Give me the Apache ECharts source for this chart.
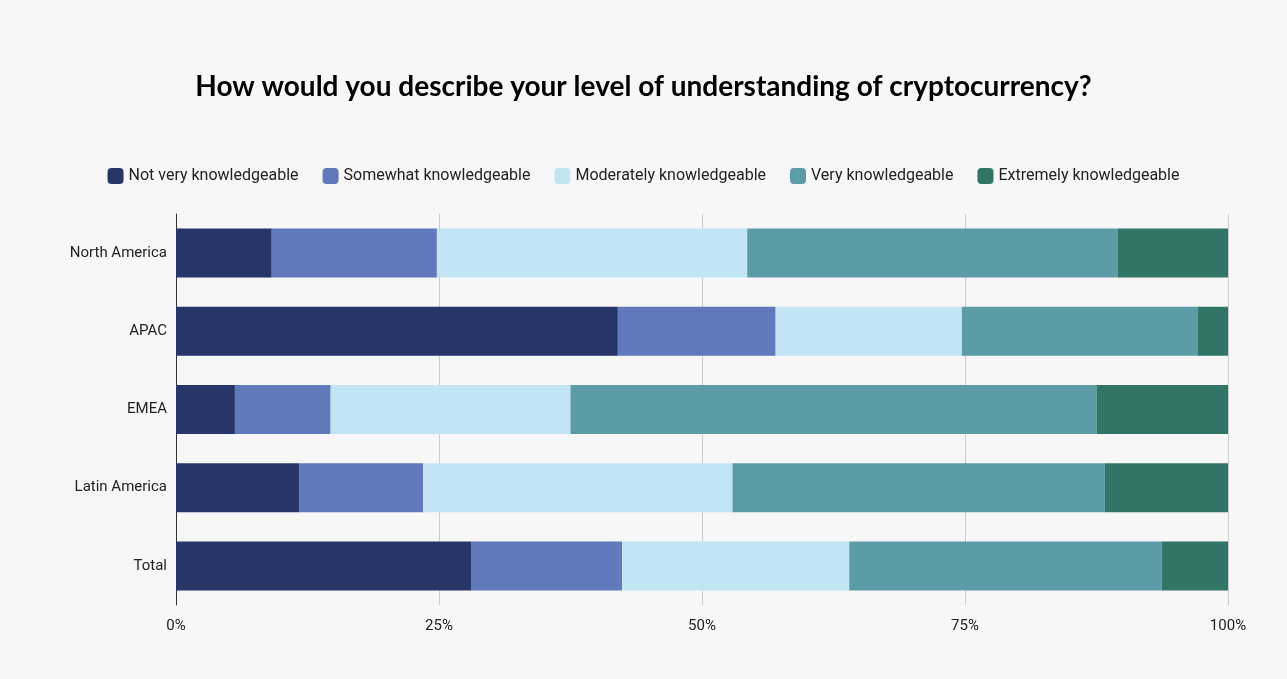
<!DOCTYPE html>
<html><head><meta charset="utf-8">
<script src="https://cdn.jsdelivr.net/npm/echarts@6/dist/echarts.min.js"></script>
<style>html,body{margin:0;background:#f7f7f7}#c{width:1287px;height:679px}</style>
</head><body><div id="c"></div>
<script>
const categories = ["North America","APAC","EMEA","Latin America","Total"];
const seriesNames = ["Not very knowledgeable","Somewhat knowledgeable","Moderately knowledgeable","Very knowledgeable","Extremely knowledgeable"];
const notVery = [9.1,42.0,5.6,11.7,28.1];
const somewhat = [15.7,15.0,9.1,11.8,14.3];
const moderately = [29.5,17.7,22.8,29.4,21.6];
const very = [35.2,22.4,50.0,35.4,29.7];
const extremely = [10.5,2.9,12.5,11.7,6.3];
const colors = ["#283569","#6079bb","#c2e5f4","#5b9ca6","#327465"];
const values = [notVery,somewhat,moderately,very,extremely];
const chart = echarts.init(document.getElementById('c'));
chart.setOption({
  backgroundColor:'#f7f7f7',
  title:{text:'How would you describe your level of understanding of cryptocurrency?',left:'center',top:68,
    textStyle:{fontFamily:'Lato',fontWeight:'bold',fontSize:28,color:'#000'}},
  legend:{top:163,left:'center',itemWidth:16,itemHeight:16,itemGap:24,icon:'roundRect',
    textStyle:{fontFamily:'Roboto',fontSize:16,color:'#222'}},
  grid:{left:176,right:59,top:214,bottom:74},
  xAxis:{type:'value',min:0,max:100,interval:25,
    axisLabel:{formatter:'{value}%',fontFamily:'Roboto',fontSize:15,color:'#222',margin:14},
    splitLine:{lineStyle:{color:'#ccc'}},axisLine:{show:false},axisTick:{show:false}},
  yAxis:{type:'category',data:categories,inverse:true,
    axisLabel:{fontFamily:'Roboto',fontSize:15,color:'#222',margin:9},
    axisLine:{lineStyle:{color:'#333'}},axisTick:{show:false}},
  series:seriesNames.map((n,i)=>({name:n,type:'bar',stack:'a',data:values[i],barWidth:49,
    itemStyle:{color:colors[i]}}))
});
</script></body></html>
